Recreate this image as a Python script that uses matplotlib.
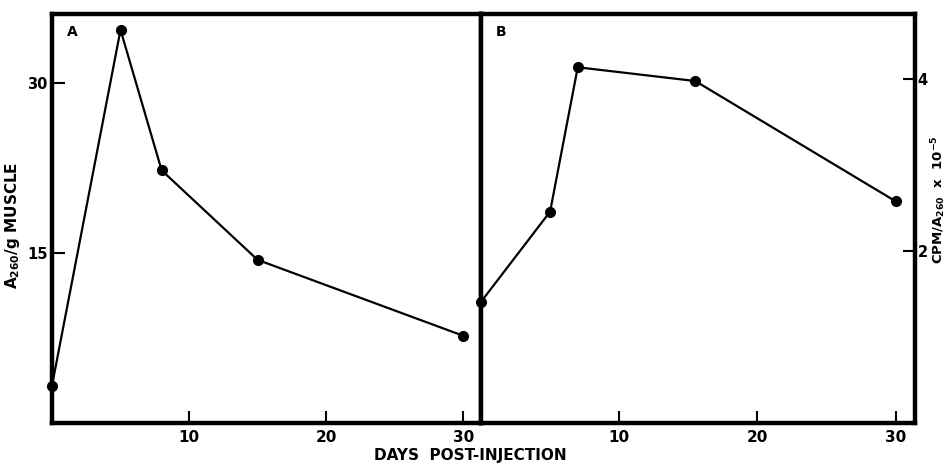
import matplotlib.pyplot as plt

# Panel A: A260/g muscle vs days
days_a = [0, 5, 8, 15, 30]
a260_a = [3.3, 34.7, 22.3, 14.4, 7.7]

# Panel B: CPM/A260 x 10^-5 vs days
days_b = [0, 5, 7, 15.5, 30]
cpm_b = [1.41, 2.46, 4.14, 3.98, 2.58]

plt.rcParams['font.family'] = ['DejaVu Sans']
plt.rcParams['font.weight'] = 'bold'
plt.rcParams['mathtext.default'] = 'bf'

fig = plt.figure(figsize=(9.47, 4.69), dpi=100)
ax_a = fig.add_axes([52 / 947, 1 - 423 / 469, (481 - 52) / 947, (423 - 14) / 469])
ax_b = fig.add_axes([481 / 947, 1 - 423 / 469, (915 - 481) / 947, (423 - 14) / 469])

lw_spine = 3.2
for ax in (ax_a, ax_b):
    for s in ax.spines.values():
        s.set_linewidth(lw_spine)
    ax.set_xticks([10, 20, 30])
    ax.set_xticklabels(['10', '20', '30'], fontsize=11, fontweight='bold')
    ax.tick_params(axis='x', direction='in', length=9, width=1.5, pad=5)

# panel A
ax_a.plot(days_a, a260_a, color='black', lw=1.6, marker='o', ms=7, clip_on=False, zorder=5)
ax_a.set_xlim(0, 31.3)
ax_a.set_ylim(0, 36.1)
ax_a.set_yticks([15, 30])
ax_a.set_yticklabels(['15', '30'], fontsize=10.5, fontweight='bold')
ax_a.tick_params(axis='y', direction='in', length=9, width=1.5, pad=3)
ax_a.text(0.035, 0.955, 'A', transform=ax_a.transAxes, fontsize=10, fontweight='bold', va='center')

# panel B
ax_b.plot(days_b, cpm_b, color='black', lw=1.6, marker='o', ms=7, clip_on=False, zorder=5)
ax_b.set_xlim(0, 31.4)
ax_b.set_ylim(0, 4.76)
ax_b.yaxis.tick_right()
ax_b.set_yticks([2, 4])
ax_b.set_yticklabels(['2', '4'], fontsize=10.5, fontweight='bold')
ax_b.tick_params(axis='y', direction='in', length=9, width=1.5, pad=2)
ax_b.text(0.035, 0.955, 'B', transform=ax_b.transAxes, fontsize=10, fontweight='bold', va='center')

# axis titles
fig.text(13 / 947, 1 - 225 / 469, 'A$_{260}$/g MUSCLE', rotation=90, ha='center', va='center',
         fontsize=11, fontweight='bold')
fig.text(939 / 947, 1 - 200 / 469, 'CPM/A$_{260}$  x  10$^{-5}$', rotation=90, ha='center', va='center',
         fontsize=9.5, fontweight='bold')
fig.text(470 / 947, 1 - 455 / 469, 'DAYS  POST-INJECTION', ha='center', va='center',
         fontsize=11, fontweight='bold')

fig.savefig('out.png', dpi=100)
